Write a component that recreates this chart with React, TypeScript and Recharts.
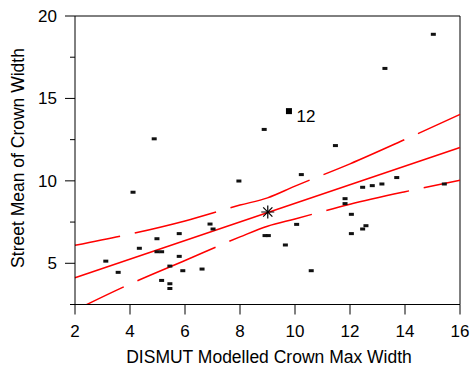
import React from "react";
import {
  ComposedChart,
  XAxis,
  YAxis,
  Scatter,
  Line,
  ReferenceLine,
} from "recharts";

const FONT = "'Liberation Sans', Arial, Helvetica, sans-serif";

const xTicks = [2, 4, 6, 8, 10, 12, 14, 16];
const yTicks = [2.5, 5, 7.5, 10, 12.5, 15, 17.5, 20];
const yLabelled = [5, 10, 15, 20];

// observed streets
const obsX = [
  4.88, 8.88, 15.03, 13.27, 11.47, 4.11, 3.12, 3.57, 4.34, 4.98, 4.98, 5.15,
  5.79, 5.79, 5.45, 5.92, 5.15, 5.45, 5.45, 6.62, 6.91, 7.02, 7.96, 10.23,
  8.91, 9.03, 10.06, 9.65, 10.59, 11.82, 11.82, 12.05, 12.05, 12.46, 12.81,
  13.16, 13.7, 12.46, 12.58, 15.43,
];
const obsY = [
  12.55, 13.12, 18.89, 16.82, 12.14, 9.31, 5.13, 4.45, 5.91, 6.49, 5.7, 5.7,
  6.8, 5.42, 4.83, 4.55, 3.96, 3.76, 3.47, 4.65, 7.38, 7.08, 9.99, 10.38, 6.68,
  6.68, 7.36, 6.11, 4.55, 8.92, 8.62, 7.97, 6.8, 9.61, 9.71, 9.81, 10.2, 7.08,
  7.28, 9.81,
];

// flagged street
const flagX = [9.78];
const flagY = [14.23];
const flagLabel = ["12"];

// mean point
const meanX = [9.01];
const meanY = [8.11];

// fitted line and bands
const fitX = [2, 16];
const fitY = [4.12, 12.02];
const bandX = [2, 4, 6, 8, 9, 10, 12, 14, 16];
const upperY = [6.09, 6.77, 7.57, 8.53, 8.97, 9.68, 11.03, 12.51, 14.03];
const lowerY = [2.15, 3.74, 5.17, 6.6, 7.25, 7.69, 8.58, 9.34, 10.04];

const points = obsX.map((x, i) => ({ x, y: obsY[i] }));
const flagged = flagX.map((x, i) => ({ x, y: flagY[i], label: flagLabel[i] }));
const mean = meanX.map((x, i) => ({ x, y: meanY[i] }));
const fit = fitX.map((x, i) => ({ x, y: fitY[i] }));
const upper = bandX.map((x, i) => ({ x, y: upperY[i] }));
const lower = bandX.map((x, i) => ({ x, y: lowerY[i] }));

function YTick({ x, y, payload }: any) {
  const major = yLabelled.includes(payload.value);
  return (
    <g>
      <line x1={x - (major ? 10 : 5)} x2={x} y1={y} y2={y} stroke="#000" />
      {major && (
        <text
          x={x - 18}
          y={y + 6}
          textAnchor="end"
          fontSize={17}
          fontFamily={FONT}
          fill="#000"
        >
          {payload.value}
        </text>
      )}
    </g>
  );
}

function XTick({ x, y, payload }: any) {
  return (
    <text
      x={x}
      y={y + 22}
      textAnchor="middle"
      fontSize={17}
      fontFamily={FONT}
      fill="#000"
    >
      {payload.value}
    </text>
  );
}

const dash = (props: any) => (
  <rect x={props.cx - 2.5} y={props.cy - 1.5} width={5} height={3} fill="#111" />
);

const flagShape = (props: any) => (
  <g>
    <rect x={props.cx - 3} y={props.cy - 3} width={6} height={6} fill="#000" />
    <text
      x={props.cx + 7.5}
      y={props.cy + 10.5}
      fontSize={17}
      fontFamily={FONT}
      fill="#000"
    >
      {props.payload.label}
    </text>
  </g>
);

const star = (props: any) => {
  const r = 6.5;
  const d = r * Math.SQRT1_2;
  const { cx, cy } = props;
  return (
    <g stroke="#000" strokeWidth={1.2}>
      <line x1={cx - r} x2={cx + r} y1={cy} y2={cy} />
      <line x1={cx} x2={cx} y1={cy - r} y2={cy + r} />
      <line x1={cx - d} x2={cx + d} y1={cy - d} y2={cy + d} />
      <line x1={cx - d} x2={cx + d} y1={cy + d} y2={cy - d} />
    </g>
  );
};

export default function App() {
  return (
    <div style={{ position: "absolute", left: 0, top: 0, background: "#fff" }}>
      <ComposedChart
        width={470}
        height={367}
        margin={{ top: 16, right: 10, bottom: 0, left: 0 }}
      >
        <XAxis
          type="number"
          dataKey="x"
          domain={[2, 16]}
          ticks={xTicks}
          interval={0}
          height={62.5}
          tickSize={10}
          tickMargin={0}
          axisLine={{ stroke: "#000" }}
          tickLine={{ stroke: "#000" }}
          tick={<XTick />}
          label={{
            content: () => (
              <text
                x={269}
                y={363}
                textAnchor="middle"
                fontSize={17.5}
                fontFamily={FONT}
                fill="#000"
              >
                DISMUT Modelled Crown Max Width
              </text>
            ),
          }}
        />
        <YAxis
          type="number"
          dataKey="y"
          domain={[2.5, 20]}
          allowDataOverflow
          ticks={yTicks}
          interval={0}
          width={75}
          tickSize={0}
          tickMargin={0}
          tickLine={false}
          axisLine={{ stroke: "#000" }}
          tick={<YTick />}
          label={{
            content: () => (
              <text
                x={24}
                y={158}
                transform="rotate(-90 24 158)"
                textAnchor="middle"
                fontSize={17.5}
                fontFamily={FONT}
                fill="#000"
              >
                Street Mean of Crown Width
              </text>
            ),
          }}
        />
        <ReferenceLine y={20} stroke="#000" />
        <ReferenceLine x={16} stroke="#000" />

        <Line
          data={fit}
          dataKey="y"
          type="linear"
          stroke="#ff0000"
          strokeWidth={1.5}
          dot={false}
          isAnimationActive={false}
        />
        <Line
          data={upper}
          dataKey="y"
          type="monotone"
          stroke="#ff0000"
          strokeWidth={1.5}
          strokeDasharray="46 15 84 15 84 15 88 15 200"
          dot={false}
          isAnimationActive={false}
        />
        <Line
          data={lower}
          dataKey="y"
          type="monotone"
          stroke="#ff0000"
          strokeWidth={1.5}
          strokeDasharray="54 15 85 15 87 15 85 15 200"
          dot={false}
          isAnimationActive={false}
        />

        <Scatter data={points} dataKey="y" shape={dash} isAnimationActive={false} />
        <Scatter data={flagged} dataKey="y" shape={flagShape} isAnimationActive={false} />
        <Scatter data={mean} dataKey="y" shape={star} isAnimationActive={false} />
      </ComposedChart>
    </div>
  );
}
